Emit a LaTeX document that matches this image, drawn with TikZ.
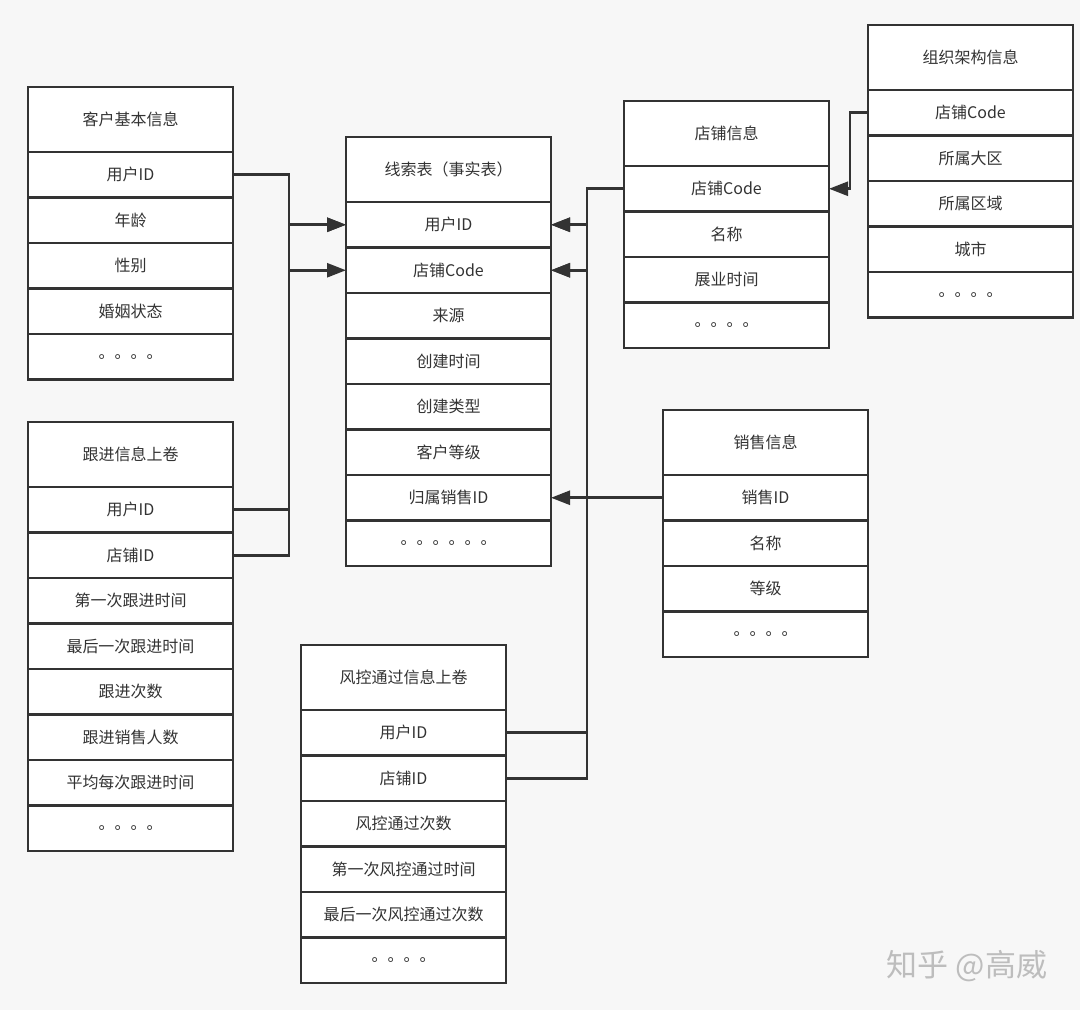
\documentclass[tikz,border=0pt]{standalone}
\usepackage{fontspec}
\newfontfamily\cjk{Noto Sans CJK SC}
\usetikzlibrary{arrows.meta,positioning}
\definecolor{ink}{HTML}{333333}
\definecolor{paper}{HTML}{F7F7F7}
\definecolor{wmark}{HTML}{BDBDBD}
\def\fourdots{。。。。}
\def\sixdots{。。。。。。}
\newcommand{\fieldrow}[3]{\node[cell, below=0pt of #1] (#2) {#3}}
\newcommand{\via}[3]{\draw[link] (#1) -- (#1 -| #2) |- (#3)}

\begin{document}
\begin{tikzpicture}[x=1pt, y=-1pt,
                    box/.style={
                        draw=ink, line width=2.6pt, fill=white,
                        minimum width=205pt, inner sep=0pt, outer sep=0pt,
                        text=ink, font=\cjk\fontsize{16pt}{19pt}\selectfont
                    },
                    hd/.style={box, minimum height=65pt, anchor=north west},
                    cell/.style={box, minimum height=45.5pt},
                    link/.style={
                        draw=ink, line width=2.6pt,
                        -{Triangle[length=19pt,width=14pt]}
                    }]
    \useasboundingbox (0,0) rectangle (1080,1010);
    \fill[paper] (0,0) rectangle (1080,1010);

    % customer table
    \node[hd] (cust0) at (28,87) {客户基本信息};
    \fieldrow{cust0}{cust1}{用户ID};
    \fieldrow{cust1}{cust2}{年龄};
    \fieldrow{cust2}{cust3}{性别};
    \fieldrow{cust3}{cust4}{婚姻状态};
    \fieldrow{cust4}{cust5}{\fourdots};

    % follow-up table
    \node[hd] (follow0) at (28,422) {跟进信息上卷};
    \fieldrow{follow0}{follow1}{用户ID};
    \fieldrow{follow1}{follow2}{店铺ID};
    \fieldrow{follow2}{follow3}{第一次跟进时间};
    \fieldrow{follow3}{follow4}{最后一次跟进时间};
    \fieldrow{follow4}{follow5}{跟进次数};
    \fieldrow{follow5}{follow6}{跟进销售人数};
    \fieldrow{follow6}{follow7}{平均每次跟进时间};
    \fieldrow{follow7}{follow8}{\fourdots};

    % fact table
    \node[hd] (lead0) at (346,137) {线索表（事实表）};
    \fieldrow{lead0}{lead1}{用户ID};
    \fieldrow{lead1}{lead2}{店铺Code};
    \fieldrow{lead2}{lead3}{来源};
    \fieldrow{lead3}{lead4}{创建时间};
    \fieldrow{lead4}{lead5}{创建类型};
    \fieldrow{lead5}{lead6}{客户等级};
    \fieldrow{lead6}{lead7}{归属销售ID};
    \fieldrow{lead7}{lead8}{\sixdots};

    % store table
    \node[hd] (store0) at (624,101) {店铺信息};
    \fieldrow{store0}{store1}{店铺Code};
    \fieldrow{store1}{store2}{名称};
    \fieldrow{store2}{store3}{展业时间};
    \fieldrow{store3}{store4}{\fourdots};

    % organisation table
    \node[hd] (org0) at (868,25) {组织架构信息};
    \fieldrow{org0}{org1}{店铺Code};
    \fieldrow{org1}{org2}{所属大区};
    \fieldrow{org2}{org3}{所属区域};
    \fieldrow{org3}{org4}{城市};
    \fieldrow{org4}{org5}{\fourdots};

    % sales table
    \node[hd] (sales0) at (663,410) {销售信息};
    \fieldrow{sales0}{sales1}{销售ID};
    \fieldrow{sales1}{sales2}{名称};
    \fieldrow{sales2}{sales3}{等级};
    \fieldrow{sales3}{sales4}{\fourdots};

    % risk table
    \node[hd] (risk0) at (301,645) {风控通过信息上卷};
    \fieldrow{risk0}{risk1}{用户ID};
    \fieldrow{risk1}{risk2}{店铺ID};
    \fieldrow{risk2}{risk3}{风控通过次数};
    \fieldrow{risk3}{risk4}{第一次风控通过时间};
    \fieldrow{risk4}{risk5}{最后一次风控通过次数};
    \fieldrow{risk5}{risk6}{\fourdots};

    \coordinate (lbus) at (289,0);
    \coordinate (rbus) at (587,0);
    \coordinate (ebus) at (850,0);

    \via{cust1.east}{lbus}{lead1.west};
    \via{follow1.east}{lbus}{lead1.west};
    \via{follow2.east}{lbus}{lead2.west};

    \via{store1.west}{rbus}{lead1.east};
    \via{store1.west}{rbus}{lead2.east};
    \via{risk1.east}{rbus}{lead1.east};
    \via{risk2.east}{rbus}{lead2.east};

    \via{org1.west}{ebus}{store1.east};

    \draw[link] (sales1.west) -- (lead7.east);

    \node[text=wmark, font=\cjk\fontsize{31pt}{36pt}\selectfont] (zhihu) at (967,966) {知乎 @高威};
\end{tikzpicture}
\end{document}
